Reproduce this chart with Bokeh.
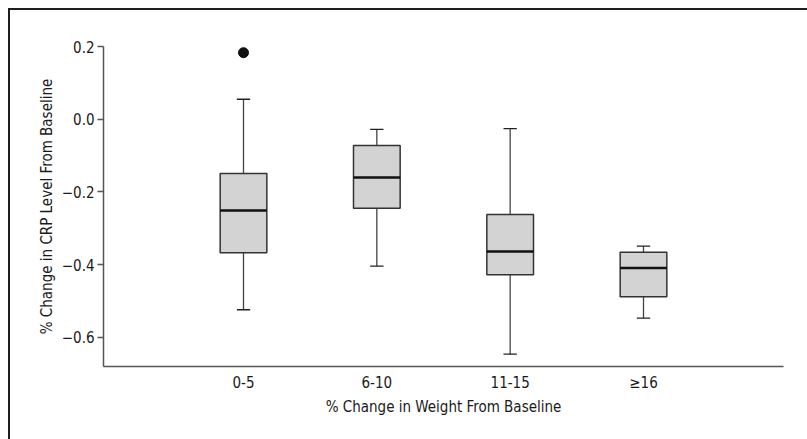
from bokeh.plotting import figure
from bokeh.models import Range1d, FixedTicker
from bokeh.embed import file_html
from bokeh.resources import INLINE

categories = ["0-5", "6-10", "11-15", "\u226516"]
upper_whisker = [0.055, -0.028, -0.026, -0.349]
q3 = [-0.149, -0.072, -0.262, -0.366]
median = [-0.251, -0.160, -0.364, -0.409]
q1 = [-0.367, -0.245, -0.428, -0.488]
lower_whisker = [-0.524, -0.404, -0.646, -0.547]
outlier_group = ["0-5"]
outlier_value = [0.183]
y_ticks = [-0.6, -0.4, -0.2, 0.0, 0.2]

FONT = "'DejaVu Sans Condensed', 'Roboto', sans-serif"
xs = [i + 1 for i in range(len(categories))]
pos = {c: x for c, x in zip(categories, xs)}
BW = 0.35
CW = 0.1

p = figure(output_backend="svg", toolbar_location=None,
           x_range=Range1d(-0.05, 5.05), y_range=Range1d(-0.68, 0.2),
           frame_width=680, frame_height=320,
           min_border_left=93, min_border_top=36, min_border_right=26, min_border_bottom=75)
p.styles = {"margin-left": "8px", "margin-top": "8px",
            "border-top": "2px solid #1e1e1e", "border-left": "2px solid #1e1e1e"}
p.outline_line_color = None
p.xgrid.visible = False
p.ygrid.visible = False

# whiskers
p.segment(x0=xs, y0=q3, x1=xs, y1=upper_whisker, line_color="#444444", line_width=1.3)
p.segment(x0=xs, y0=q1, x1=xs, y1=lower_whisker, line_color="#444444", line_width=1.3)
p.segment(x0=[x - CW / 2 for x in xs], y0=upper_whisker, x1=[x + CW / 2 for x in xs], y1=upper_whisker,
          line_color="#222222", line_width=1.3)
p.segment(x0=[x - CW / 2 for x in xs], y0=lower_whisker, x1=[x + CW / 2 for x in xs], y1=lower_whisker,
          line_color="#222222", line_width=1.3)
# boxes
p.vbar(x=xs, width=BW, top=q3, bottom=q1, fill_color="#d3d3d3", line_color="#333333", line_width=1.5)
p.segment(x0=[x - BW / 2 for x in xs], y0=median, x1=[x + BW / 2 for x in xs], y1=median,
          line_color="#111111", line_width=2.5)
# outliers
p.scatter(x=[pos[g] for g in outlier_group], y=outlier_value, size=10, color="#111111")

p.xaxis.ticker = FixedTicker(ticks=xs)
p.xaxis.major_label_overrides = {x: c for x, c in zip(xs, categories)}
p.yaxis.ticker = FixedTicker(ticks=y_ticks)
p.yaxis.major_label_overrides = {t: ("%.1f" % t).replace("-", "\u2212") for t in y_ticks}
p.yaxis.major_label_overrides[0.0] = "0.0"

p.xaxis.axis_label = "% Change in Weight From Baseline"
p.yaxis.axis_label = "% Change in CRP Level From Baseline"
for ax in (p.xaxis[0], p.yaxis[0]):
    ax.axis_line_color = "#555555"
    ax.axis_line_width = 1.5
    ax.major_tick_line_color = "#555555"
    ax.major_tick_line_width = 1.3
    ax.minor_tick_line_color = None
    ax.major_label_text_font = FONT
    ax.major_label_text_font_size = "15px"
    ax.major_label_text_color = "#1a1a1a"
    ax.axis_label_text_font = FONT
    ax.axis_label_text_font_size = "15px"
    ax.axis_label_text_font_style = "normal"
    ax.axis_label_text_color = "#1a1a1a"
p.xaxis.major_tick_out = 0
p.xaxis.major_tick_in = 0
p.yaxis.major_tick_out = 6
p.yaxis.major_tick_in = 0
p.xaxis.major_label_standoff = 7
p.xaxis.axis_label_standoff = 3
p.yaxis.major_label_standoff = 3
p.yaxis.axis_label_standoff = 3

open("out.html", "w").write(file_html(p, INLINE))
